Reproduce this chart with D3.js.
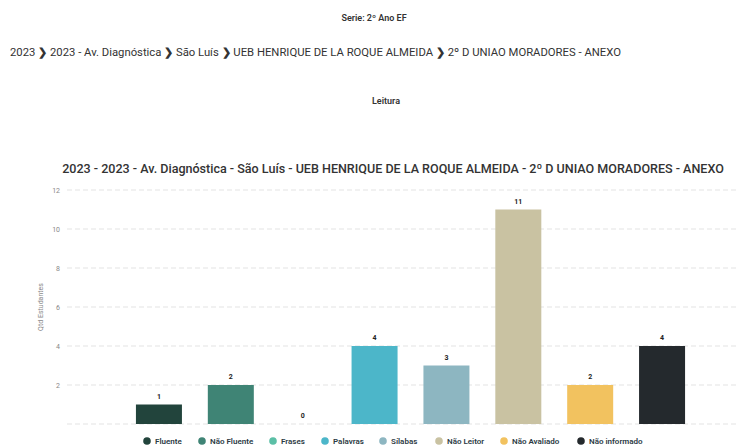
<!DOCTYPE html>
<html><head><meta charset="utf-8">
<script src="https://cdn.jsdelivr.net/npm/d3@7"></script>
<style>
html,body{margin:0;padding:0;background:#fff;}
svg{display:block;font-family:Roboto, "Noto Sans", sans-serif;}
</style></head>
<body>
<svg id="c" width="736" height="447"></svg>
<script>
const categories = ["Fluente","Não Fluente","Frases","Palavras","Sílabas","Não Leitor","Não Avaliado","Não informado"];
const values = [1,2,0,4,3,11,2,4];
const colors = ["#22443c","#3f8475","#5bbfa6","#4cb6c9","#8db6c1","#c9c2a2","#f2c25f","#24292d"];
const yTicks = [2,4,6,8,10,12];
const serieTitle = "Serie: 2º Ano EF";
const breadcrumb = ["2023","2023 - Av. Diagnóstica","São Luís","UEB HENRIQUE DE LA ROQUE ALMEIDA","2º D UNIAO MORADORES - ANEXO"];
const sectionTitle = "Leitura";
const chartTitle = "2023 - 2023 - Av. Diagnóstica - São Luís - UEB HENRIQUE DE LA ROQUE ALMEIDA - 2º D UNIAO MORADORES - ANEXO";
const yLabel = "Qtd Estudantes";

const svg = d3.select("#c");

function fitText(sel, base, target){
  sel.attr("font-size", base);
  const w = sel.node().getComputedTextLength();
  sel.attr("font-size", base * target / w);
}

svg.append("text").attr("x",374).attr("y",21).attr("text-anchor","middle")
  .attr("font-size",9).attr("font-weight",600).attr("fill","#333").text(serieTitle);

// breadcrumb
const bc = svg.append("text").attr("x",10).attr("y",56).attr("fill","#333");
breadcrumb.forEach((t,i)=>{
  if(i>0) bc.append("tspan").attr("font-weight",700).text(" \u276F ");
  bc.append("tspan").text(t);
});
fitText(bc, 9, 616);

svg.append("text").attr("x",386).attr("y",104).attr("text-anchor","middle")
  .attr("font-size",9).attr("font-weight",600).attr("fill","#333").text(sectionTitle);

const ct = svg.append("text").attr("x",393).attr("y",173).attr("text-anchor","middle")
  .attr("font-weight",500).attr("fill","#333").text(chartTitle);
fitText(ct, 13, 662);

const y = d3.scaleLinear().domain([0,12]).range([424,190]);
const x = d3.scaleBand().domain(categories).range([123,698]).paddingInner(0.36).paddingOuter(0.18);

// grid
const grid = svg.append("g");
grid.selectAll("line").data([0].concat(yTicks)).join("line")
  .attr("x1",67).attr("x2",736).attr("y1",d=>y(d)).attr("y2",d=>y(d))
  .attr("stroke","#e3e3e3").attr("stroke-width",1).attr("stroke-dasharray","5,3");

// y axis
const yAxis = svg.append("g").attr("transform","translate(60,0)")
  .call(d3.axisLeft(y).tickValues(yTicks).tickSize(0).tickPadding(0));
yAxis.select(".domain").remove();
yAxis.selectAll("text").attr("font-size",7).attr("fill","#888").attr("font-family","Roboto, sans-serif");

svg.append("text").attr("transform","translate(43,307) rotate(-90)").attr("text-anchor","middle")
  .attr("font-size",7).attr("fill","#888").text(yLabel);

// bars
svg.append("g").selectAll("rect").data(categories).join("rect")
  .attr("x",d=>x(d)).attr("width",x.bandwidth())
  .attr("y",(d,i)=>y(values[i])).attr("height",(d,i)=>y(0)-y(values[i]))
  .attr("fill",(d,i)=>colors[i]);

svg.append("g").selectAll("text").data(categories).join("text")
  .attr("x",d=>x(d)+x.bandwidth()/2).attr("y",(d,i)=>y(values[i])-6)
  .attr("text-anchor","middle").attr("font-size",7).attr("font-weight",700).attr("fill","#222")
  .text((d,i)=>values[i]);

// legend
const legendCx = [147,202,273,325,383,439,504,581];
const lg = svg.append("g");
categories.forEach((c,i)=>{
  lg.append("circle").attr("cx",legendCx[i]).attr("cy",441).attr("r",3.8).attr("fill",colors[i]);
  lg.append("text").attr("x",legendCx[i]+8).attr("y",444).attr("font-size",8).attr("font-weight",600)
    .attr("fill","#2b3a44").text(c);
});
</script>
</body></html>
